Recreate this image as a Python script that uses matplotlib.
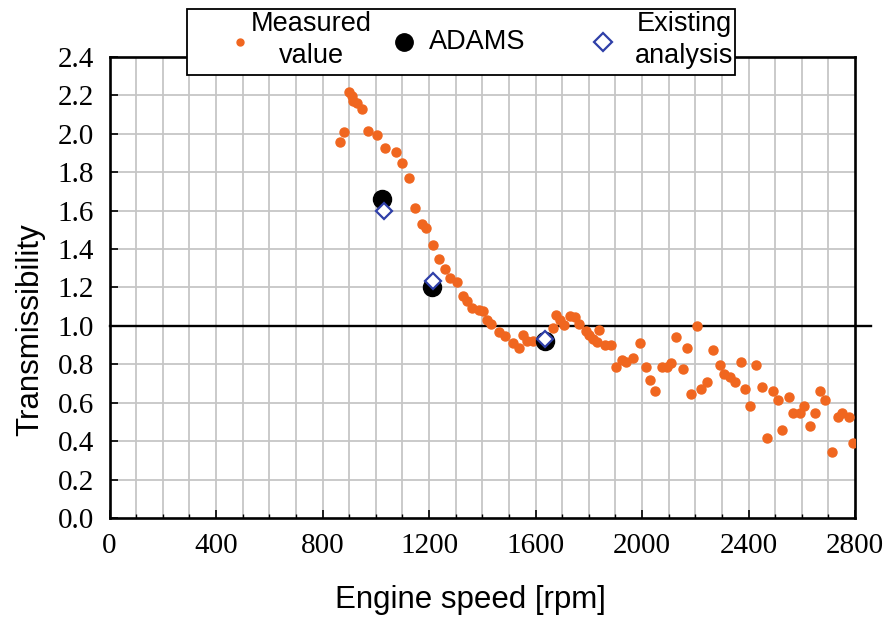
import matplotlib
matplotlib.use("Agg")
import matplotlib.pyplot as plt
from matplotlib.lines import Line2D
from matplotlib.patches import Rectangle

# Measured transmissibility versus engine speed
measured_rpm = [865, 881, 899, 909, 915, 930, 947, 969, 1003, 1034, 1075, 1098,
                1123, 1147, 1172, 1187, 1213, 1238, 1261, 1278, 1305, 1327, 1343,
                1362, 1386, 1401, 1416, 1433, 1463, 1486, 1516, 1538, 1552, 1568,
                1590, 1666, 1676, 1691, 1706, 1730, 1747, 1764, 1788, 1801, 1814,
                1831, 1840, 1860, 1885, 1901, 1926, 1941, 1966, 1991, 2016, 2031,
                2048, 2073, 2092, 2110, 2129, 2152, 2169, 2185, 2208, 2223, 2242,
                2267, 2292, 2307, 2332, 2348, 2373, 2387, 2405, 2429, 2452, 2470,
                2492, 2511, 2527, 2551, 2567, 2592, 2607, 2630, 2648, 2670, 2687,
                2713, 2736, 2752, 2776, 2792]
measured_tr = [1.96, 2.007, 2.22, 2.196, 2.17, 2.163, 2.128, 2.017, 1.995, 1.925,
               1.906, 1.847, 1.77, 1.612, 1.533, 1.509, 1.419, 1.35, 1.296, 1.25,
               1.23, 1.158, 1.13, 1.095, 1.083, 1.08, 1.033, 1.012, 0.966, 0.95,
               0.91, 0.884, 0.955, 0.92, 0.92, 0.988, 1.058, 1.03, 1.003, 1.05,
               1.046, 1.012, 0.975, 0.952, 0.93, 0.917, 0.98, 0.898, 0.898, 0.786,
               0.822, 0.81, 0.833, 0.912, 0.785, 0.72, 0.662, 0.785, 0.785, 0.808,
               0.944, 0.774, 0.885, 0.648, 1.0, 0.672, 0.708, 0.877, 0.797, 0.75,
               0.732, 0.706, 0.81, 0.673, 0.582, 0.797, 0.684, 0.415, 0.661, 0.615,
               0.458, 0.628, 0.545, 0.545, 0.581, 0.479, 0.545, 0.661, 0.615, 0.345,
               0.524, 0.548, 0.524, 0.389]

# ADAMS simulation
adams_rpm = [1025, 1210, 1635]
adams_tr = [1.66, 1.20, 0.92]

# Existing analysis
existing_rpm = [1030, 1215, 1635]
existing_tr = [1.60, 1.235, 0.93]

x_ticks = [0, 400, 800, 1200, 1600, 2000, 2400, 2800]
y_ticks = [0.0, 0.2, 0.4, 0.6, 0.8, 1.0, 1.2, 1.4, 1.6, 1.8, 2.0, 2.2, 2.4]

ORANGE = "#f0661f"
BLUE = "#2f3fa8"

fig = plt.figure(figsize=(8.94, 6.19), dpi=100)
ax = fig.add_axes([0.1225, 0.1632, 0.8340, 0.7447])

ax.set_xlim(0, 2800)
ax.set_ylim(0, 2.4)

# grid: every 100 rpm and every 0.2
for xv in range(100, 2800, 100):
    ax.axvline(xv, color="#c6c6c6", lw=1.3, zorder=0)
for yv in y_ticks[1:-1]:
    ax.axhline(yv, color="#c6c6c6", lw=1.3, zorder=0)

# reference line at unity transmissibility
ax.plot([0, 2860], [1.0, 1.0], color="black", lw=1.7, clip_on=False, zorder=2)

ax.plot(measured_rpm, measured_tr, "o", color=ORANGE, ms=6.5, mec=ORANGE, zorder=3)
ax.plot(adams_rpm, adams_tr, "o", color="black", ms=13, zorder=4)
ax.plot(existing_rpm, existing_tr, "D", mfc="white", mec=BLUE, mew=1.6, ms=8.5, zorder=5)

ax.set_xticks(x_ticks)
ax.set_xticks(range(0, 2801, 100), minor=True)
ax.set_yticks(y_ticks)
ax.set_xticklabels([str(v) for v in x_ticks])
ax.set_yticklabels([f"{v:.1f}" for v in y_ticks])
ax.tick_params(axis="both", which="major", direction="in", length=6, width=1.2,
               labelsize=21, pad=11)
ax.tick_params(axis="x", which="minor", direction="in", length=3, width=1)
for lab in ax.get_xticklabels() + ax.get_yticklabels():
    lab.set_family("Liberation Serif")
for sp in ax.spines.values():
    sp.set_linewidth(1.9)
    sp.set_color("black")

fig.text(0.526, 0.030, "Engine speed [rpm]", ha="center", va="center",
         fontsize=22.5, family="Liberation Sans")
fig.text(0.034, 0.468, "Transmissibility", ha="center", va="center",
         rotation=90, fontsize=22.5, family="Liberation Sans")

# legend box drawn on the figure, above the plot frame
W, H = 894.0, 619.0
def fx(px):
    return px / W
def fy(py):
    return 1 - py / H

box = Rectangle((fx(187), fy(75)), fx(735) - fx(187), fy(9) - fy(75),
                transform=fig.transFigure, facecolor="white", edgecolor="black",
                lw=1.3, zorder=10)
fig.add_artist(box)
fig.add_artist(Line2D([fx(240)], [fy(42)], marker="o", color=ORANGE, ms=5,
                      transform=fig.transFigure, zorder=11))
fig.add_artist(Line2D([fx(404)], [fy(42)], marker="o", color="black", ms=12.5,
                      transform=fig.transFigure, zorder=11))
fig.add_artist(Line2D([fx(603)], [fy(42)], marker="D", mfc="white", mec=BLUE,
                      mew=1.6, ms=9, transform=fig.transFigure, zorder=11))
leg_font = dict(fontsize=19.5, family="Liberation Sans", zorder=12,
                ha="center", va="center", multialignment="center",
                linespacing=1.3)
fig.text(fx(311), fy(40), "Measured\nvalue", **leg_font)
fig.text(fx(477), fy(42), "ADAMS", **leg_font)
fig.text(fx(684), fy(40), "Existing\nanalysis", **leg_font)

fig.savefig("out.png", dpi=100)
